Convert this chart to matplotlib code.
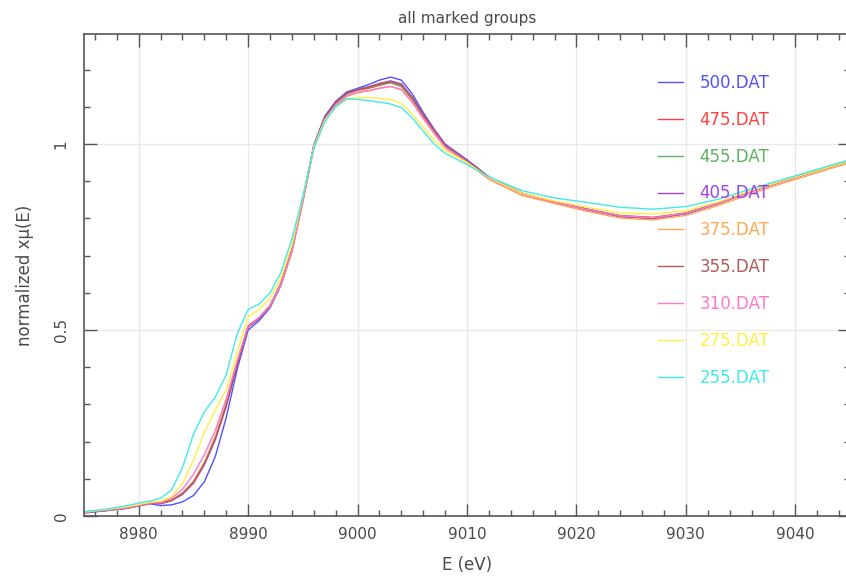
import matplotlib
matplotlib.use("Agg")
import matplotlib.pyplot as plt
from matplotlib.ticker import MultipleLocator, FixedLocator

energy = [8975, 8977, 8979, 8980, 8981, 8982, 8983, 8984, 8985, 8986, 8987, 8988, 8989,
          8990, 8991, 8992, 8993, 8994, 8995, 8996, 8997, 8998, 8999, 9000, 9001, 9002,
          9003, 9004, 9005, 9006, 9007, 9008, 9010, 9012, 9015, 9018, 9021, 9024, 9027,
          9030, 9033, 9036, 9039, 9042, 9045]

mu_500 = [0.008, 0.014, 0.021, 0.027, 0.033, 0.028, 0.030, 0.038, 0.055, 0.092, 0.160, 0.265, 0.395,
          0.500, 0.525, 0.560, 0.620, 0.712, 0.848, 0.995, 1.075, 1.115, 1.140, 1.150, 1.160, 1.172,
          1.180, 1.172, 1.135, 1.085, 1.040, 1.000, 0.958, 0.912, 0.868, 0.845, 0.825, 0.806, 0.800,
          0.812, 0.840, 0.873, 0.902, 0.930, 0.957]
mu_475 = [0.010, 0.015, 0.022, 0.028, 0.034, 0.034, 0.042, 0.060, 0.090, 0.140, 0.210, 0.300, 0.410,
          0.510, 0.532, 0.565, 0.625, 0.715, 0.850, 0.995, 1.070, 1.110, 1.135, 1.145, 1.150, 1.158,
          1.165, 1.155, 1.120, 1.075, 1.035, 0.995, 0.955, 0.910, 0.868, 0.845, 0.825, 0.808, 0.803,
          0.815, 0.842, 0.874, 0.902, 0.928, 0.955]
mu_455 = [0.010, 0.015, 0.022, 0.028, 0.034, 0.034, 0.043, 0.062, 0.092, 0.142, 0.212, 0.302, 0.410,
          0.510, 0.532, 0.565, 0.624, 0.714, 0.849, 0.995, 1.070, 1.110, 1.135, 1.146, 1.152, 1.160,
          1.166, 1.157, 1.122, 1.077, 1.036, 0.996, 0.955, 0.910, 0.867, 0.844, 0.824, 0.807, 0.802,
          0.814, 0.841, 0.873, 0.901, 0.928, 0.954]
mu_405 = [0.010, 0.015, 0.022, 0.028, 0.034, 0.033, 0.041, 0.058, 0.088, 0.138, 0.205, 0.295, 0.405,
          0.508, 0.530, 0.564, 0.624, 0.714, 0.850, 0.997, 1.072, 1.113, 1.138, 1.147, 1.154, 1.163,
          1.170, 1.162, 1.126, 1.080, 1.038, 0.998, 0.957, 0.911, 0.867, 0.844, 0.823, 0.805, 0.800,
          0.813, 0.841, 0.874, 0.902, 0.930, 0.957]
mu_375 = [0.010, 0.015, 0.022, 0.028, 0.034, 0.034, 0.043, 0.062, 0.094, 0.145, 0.215, 0.305, 0.412,
          0.510, 0.532, 0.564, 0.622, 0.710, 0.843, 0.988, 1.062, 1.102, 1.128, 1.138, 1.143, 1.150,
          1.155, 1.146, 1.112, 1.068, 1.028, 0.990, 0.950, 0.905, 0.862, 0.840, 0.819, 0.801, 0.796,
          0.808, 0.835, 0.867, 0.896, 0.923, 0.950]
mu_355 = [0.010, 0.015, 0.022, 0.028, 0.034, 0.034, 0.042, 0.060, 0.090, 0.140, 0.208, 0.298, 0.408,
          0.510, 0.532, 0.566, 0.626, 0.716, 0.851, 0.996, 1.071, 1.112, 1.137, 1.147, 1.153, 1.162,
          1.168, 1.160, 1.125, 1.079, 1.037, 0.997, 0.956, 0.911, 0.868, 0.845, 0.824, 0.806, 0.801,
          0.814, 0.841, 0.873, 0.901, 0.929, 0.955]
mu_310 = [0.010, 0.016, 0.023, 0.029, 0.035, 0.036, 0.048, 0.072, 0.112, 0.165, 0.230, 0.315, 0.418,
          0.512, 0.534, 0.566, 0.625, 0.715, 0.848, 0.992, 1.066, 1.105, 1.130, 1.140, 1.144, 1.150,
          1.155, 1.147, 1.113, 1.070, 1.030, 0.992, 0.952, 0.908, 0.866, 0.844, 0.824, 0.807, 0.802,
          0.814, 0.841, 0.873, 0.901, 0.928, 0.955]
mu_275 = [0.011, 0.017, 0.025, 0.031, 0.037, 0.040, 0.052, 0.088, 0.150, 0.225, 0.285, 0.340, 0.440,
          0.535, 0.555, 0.585, 0.640, 0.730, 0.858, 0.994, 1.064, 1.100, 1.120, 1.125, 1.125, 1.123,
          1.120, 1.110, 1.080, 1.045, 1.010, 0.983, 0.950, 0.910, 0.868, 0.847, 0.830, 0.815, 0.812,
          0.821, 0.845, 0.876, 0.903, 0.929, 0.955]
mu_255 = [0.012, 0.018, 0.028, 0.035, 0.040, 0.048, 0.070, 0.130, 0.220, 0.280, 0.320, 0.380, 0.490,
          0.555, 0.570, 0.600, 0.655, 0.745, 0.860, 0.990, 1.060, 1.100, 1.122, 1.120, 1.117, 1.113,
          1.108, 1.098, 1.070, 1.035, 1.000, 0.975, 0.945, 0.912, 0.875, 0.855, 0.843, 0.830, 0.825,
          0.832, 0.852, 0.880, 0.906, 0.932, 0.958]

labels = ["500.DAT", "475.DAT", "455.DAT", "405.DAT", "375.DAT",
          "355.DAT", "310.DAT", "275.DAT", "255.DAT"]
series = [mu_500, mu_475, mu_455, mu_405, mu_375, mu_355, mu_310, mu_275, mu_255]
colors = ["#5050ff", "#ff4040", "#60b060", "#a040f0", "#ffa850",
          "#b05a5a", "#ff78cc", "#fff040", "#40eaea"]

title = "all marked groups"
xlabel = "E (eV)"
ylabel = "normalized x\u03bc(E)"
yticks = [0, 0.5, 1]
ytick_labels = ["0", "0.5", "1"]
xticks = [8980, 8990, 9000, 9010, 9020, 9030, 9040]

W, H = 846, 578
fig = plt.figure(figsize=(W / 100, H / 100), dpi=100)
ax = fig.add_axes([84 / W, 1 - 516 / H, (850 - 84) / W, (516 - 34) / H])

ax.grid(True, color="#e8e8e8", linewidth=1.0, zorder=0)
ax.set_axisbelow(True)

for lab, y, c in zip(labels, series, colors):
    ax.plot(energy, y, color=c, linewidth=1.0, label=lab, zorder=2)

ax.set_xlim(8975, 9045)
ax.set_ylim(0, 1.296)

textc = "#4a4a4a"
ax.xaxis.set_major_locator(FixedLocator(xticks))
ax.xaxis.set_minor_locator(MultipleLocator(2))
ax.yaxis.set_major_locator(FixedLocator(yticks))
ax.yaxis.set_minor_locator(MultipleLocator(0.1))
ax.set_yticklabels(ytick_labels, rotation=90, va="center")
ax.tick_params(which="both", direction="in", top=True, right=True, color="#555555")
ax.tick_params(which="major", length=9, width=1.0, labelsize=11, labelcolor=textc)
ax.tick_params(which="minor", length=4.5, width=1.0)
ax.tick_params(axis="x", which="major", pad=8)
ax.tick_params(axis="y", which="major", pad=11)
for s in ax.spines.values():
    s.set_color("#555555")
    s.set_linewidth(1.2)

ax.set_title(title, fontsize=11, color=textc, pad=8)
ax.set_xlabel(xlabel, fontsize=12, color=textc, labelpad=10)
ax.set_ylabel(ylabel, fontsize=12, color=textc, labelpad=14)

leg = ax.legend(loc="upper left", bbox_to_anchor=(658 / W, 1 - 74 / H),
                bbox_transform=fig.transFigure, frameon=False, fontsize=12,
                labelcolor="linecolor", handlelength=1.5, handletextpad=1.0,
                labelspacing=1.13, borderpad=0, borderaxespad=0)

fig.savefig("out.png", dpi=100)
